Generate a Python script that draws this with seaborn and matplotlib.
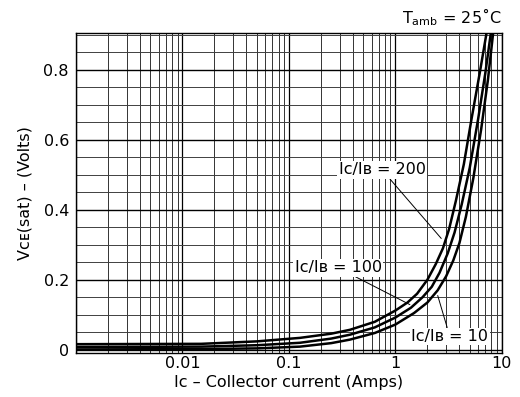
import seaborn as sns
import matplotlib.pyplot as plt
import matplotlib.ticker as mticker
import pandas as pd

# Vce(sat) vs collector current
current_200 = [0.001, 0.015, 0.05, 0.127, 0.25, 0.374, 0.642, 1.0, 1.3, 1.6, 2.0, 2.4, 2.8, 3.2, 3.7, 4.4, 5.2, 6.2, 7.2]
vce_200 = [0.016, 0.017, 0.024, 0.034, 0.046, 0.057, 0.080, 0.112, 0.135, 0.160, 0.200, 0.245, 0.290, 0.345, 0.425, 0.530, 0.660, 0.790, 0.906]

current_100 = [0.001, 0.015, 0.05, 0.127, 0.25, 0.374, 0.642, 1.0, 1.4, 1.8, 2.2, 2.6, 3.1, 3.6, 4.2, 5.0, 6.0, 7.0, 7.9]
vce_100 = [0.008, 0.009, 0.013, 0.020, 0.032, 0.043, 0.064, 0.092, 0.120, 0.150, 0.180, 0.220, 0.275, 0.335, 0.415, 0.520, 0.660, 0.790, 0.906]

current_10 = [0.001, 0.015, 0.05, 0.127, 0.25, 0.374, 0.642, 1.0, 1.5, 2.0, 2.5, 3.0, 3.5, 4.0, 4.6, 5.4, 6.4, 7.4, 8.3]
vce_10 = [0.001, 0.002, 0.004, 0.009, 0.019, 0.029, 0.048, 0.072, 0.105, 0.135, 0.170, 0.210, 0.255, 0.305, 0.380, 0.490, 0.630, 0.770, 0.906]

ratios = ['200', '100', '10']
x_ticks = [0.01, 0.1, 1, 10]
x_tick_labels = ['0.01', '0.1', '1', '10']
y_ticks = [0, 0.2, 0.4, 0.6, 0.8]
y_tick_labels = ['0', '0.2', '0.4', '0.6', '0.8']

df = pd.concat([
    pd.DataFrame({'Ic': current_200, 'Vce': vce_200, 'ratio': '200'}),
    pd.DataFrame({'Ic': current_100, 'Vce': vce_100, 'ratio': '100'}),
    pd.DataFrame({'Ic': current_10, 'Vce': vce_10, 'ratio': '10'}),
])

sns.set_style('white')
plt.rcParams['font.family'] = ['DejaVu Sans']
plt.rcParams['mathtext.default'] = 'regular'
plt.rcParams['text.color'] = 'black'
plt.rcParams['axes.labelcolor'] = 'black'

fig = plt.figure(figsize=(5.2, 3.97), dpi=100)
ax = fig.add_axes([0.146, 0.111, 0.819, 0.806])

sns.lineplot(data=df, x='Ic', y='Vce', hue='ratio', hue_order=ratios,
             palette=['black'] * 3, linewidth=1.8, legend=False, ax=ax, sort=False)

ax.set_xscale('log')
ax.set_xlim(0.001, 10)
ax.set_ylim(-0.009, 0.905)

ax.xaxis.set_major_locator(mticker.FixedLocator(x_ticks))
ax.xaxis.set_major_formatter(mticker.FixedFormatter(x_tick_labels))
ax.xaxis.set_minor_locator(mticker.LogLocator(base=10, subs=range(2, 10)))
ax.xaxis.set_minor_formatter(mticker.NullFormatter())
ax.set_yticks(y_ticks)
ax.set_yticklabels(y_tick_labels)
ax.yaxis.set_minor_locator(mticker.MultipleLocator(0.05))

# dense datasheet grid
ax.grid(which='major', axis='x', color='black', linewidth=0.9)
ax.grid(which='minor', axis='x', color='0.2', linewidth=0.7)
ax.grid(which='major', axis='y', color='black', linewidth=1.0)
ax.grid(which='minor', axis='y', color='0.25', linewidth=0.7)
ax.axvline(0.001, color='black', linewidth=0.9)
ax.tick_params(which='both', length=0, labelsize=11.5, colors='black')
ax.tick_params(axis='x', pad=2)
ax.tick_params(axis='y', pad=5)
for s in ax.spines.values():
    s.set_color('black')
    s.set_linewidth(1.0)

ax.set_xlabel('Iᴄ – Collector current (Amps)', fontsize=11.5, labelpad=3)
ax.set_ylabel('Vᴄᴇ(sat) – (Volts)', fontsize=11.5, labelpad=8)

ax.text(1.0, 1.015, 'T$_{amb}$ = 25˚C', transform=ax.transAxes,
        ha='right', va='bottom', fontsize=11.5, color='black')

box = dict(facecolor='white', edgecolor='none', pad=1.0)
line = dict(arrowstyle='-', color='black', linewidth=0.7, shrinkA=0, shrinkB=0)
ax.annotate('Iᴄ/Iʙ = 200', xy=(2.7, 0.318), xytext=(0.75, 0.514), color='black',
            ha='center', va='center', fontsize=11.5, bbox=box, arrowprops=line)
ax.annotate('Iᴄ/Iʙ = 100', xy=(1.37, 0.129), xytext=(0.29, 0.234), color='black',
            ha='center', va='center', fontsize=11.5, bbox=box, arrowprops=line)
ax.annotate('Iᴄ/Iʙ = 10', xy=(2.5, 0.155), xytext=(3.25, 0.038), color='black',
            ha='center', va='center', fontsize=11.5, bbox=box, arrowprops=line)

plt.savefig('out.png', dpi=100)
